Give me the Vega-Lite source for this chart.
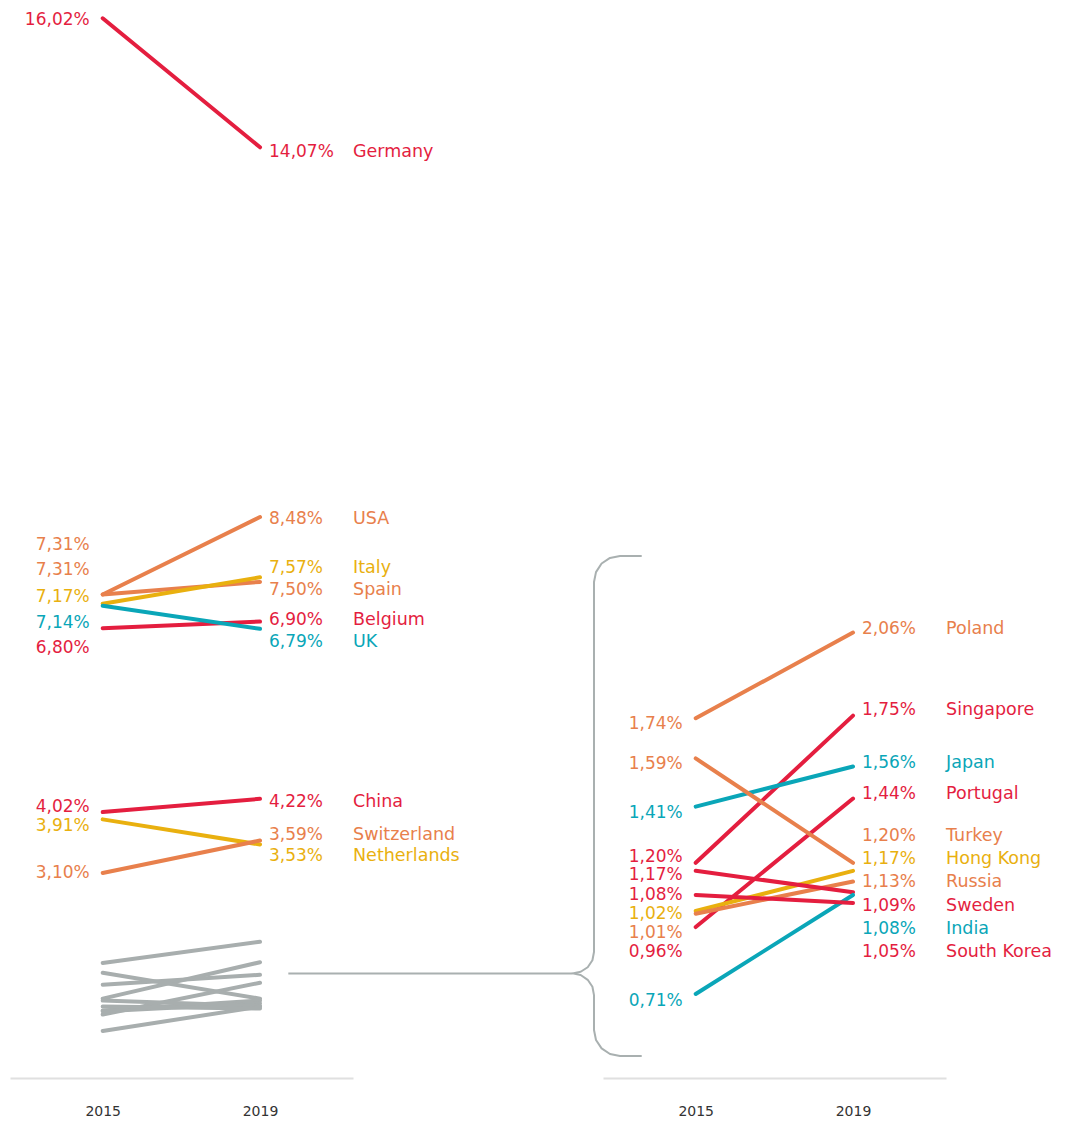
{
  "$schema": "https://vega.github.io/schema/vega-lite/v6.json",
  "padding": {"left": 10, "top": 5, "right": 0, "bottom": 0},
  "background": "white",
  "bounds": "flush",
  "spacing": 250,
  "config": {
    "view": {"stroke": null},
    "axisX": {"domainColor": "#e0e0e0", "domainWidth": 2, "ticks": false, "grid": false, "labelFont": "DejaVu Sans", "labelFontSize": 14, "labelColor": "#333333", "labelPadding": 26, "labelAngle": 0}
  },
  "datasets": {
    "slopes": [
      {"country": "Germany", "group": "top", "year": 2015, "value": 16.02, "labelAt": 16.012},
      {"country": "Germany", "group": "top", "year": 2019, "value": 14.07, "labelAt": 14.026},
      {"country": "USA", "group": "top", "year": 2015, "value": 7.31, "labelAt": 8.080},
      {"country": "USA", "group": "top", "year": 2019, "value": 8.48, "labelAt": 8.469},
      {"country": "Spain", "group": "top", "year": 2015, "value": 7.31, "labelAt": 7.698},
      {"country": "Spain", "group": "top", "year": 2019, "value": 7.50, "labelAt": 7.395},
      {"country": "Italy", "group": "top", "year": 2015, "value": 7.17, "labelAt": 7.294},
      {"country": "Italy", "group": "top", "year": 2019, "value": 7.57, "labelAt": 7.737},
      {"country": "Belgium", "group": "top", "year": 2015, "value": 6.80, "labelAt": 6.519},
      {"country": "Belgium", "group": "top", "year": 2019, "value": 6.90, "labelAt": 6.946},
      {"country": "UK", "group": "top", "year": 2015, "value": 7.14, "labelAt": 6.906},
      {"country": "UK", "group": "top", "year": 2019, "value": 6.79, "labelAt": 6.614},
      {"country": "China", "group": "top", "year": 2015, "value": 4.02, "labelAt": 4.119},
      {"country": "China", "group": "top", "year": 2019, "value": 4.22, "labelAt": 4.195},
      {"country": "Netherlands", "group": "top", "year": 2015, "value": 3.91, "labelAt": 3.832},
      {"country": "Netherlands", "group": "top", "year": 2019, "value": 3.53, "labelAt": 3.379},
      {"country": "Switzerland", "group": "top", "year": 2015, "value": 3.10, "labelAt": 3.126},
      {"country": "Switzerland", "group": "top", "year": 2019, "value": 3.59, "labelAt": 3.692},
      {"country": "Poland", "group": "other", "year": 2015, "value": 1.74, "labelAt": 1.725},
      {"country": "Poland", "group": "other", "year": 2019, "value": 2.06, "labelAt": 2.078},
      {"country": "Singapore", "group": "other", "year": 2015, "value": 1.20, "labelAt": 1.229},
      {"country": "Singapore", "group": "other", "year": 2019, "value": 1.75, "labelAt": 1.776},
      {"country": "Japan", "group": "other", "year": 2015, "value": 1.41, "labelAt": 1.391},
      {"country": "Japan", "group": "other", "year": 2019, "value": 1.56, "labelAt": 1.579},
      {"country": "Portugal", "group": "other", "year": 2015, "value": 0.96, "labelAt": 0.872},
      {"country": "Portugal", "group": "other", "year": 2019, "value": 1.44, "labelAt": 1.463},
      {"country": "Turkey", "group": "other", "year": 2015, "value": 1.59, "labelAt": 1.574},
      {"country": "Turkey", "group": "other", "year": 2019, "value": 1.20, "labelAt": 1.307},
      {"country": "Hong Kong", "group": "other", "year": 2015, "value": 1.02, "labelAt": 1.014},
      {"country": "Hong Kong", "group": "other", "year": 2019, "value": 1.17, "labelAt": 1.219},
      {"country": "Russia", "group": "other", "year": 2015, "value": 1.01, "labelAt": 0.943},
      {"country": "Russia", "group": "other", "year": 2019, "value": 1.13, "labelAt": 1.133},
      {"country": "Sweden", "group": "other", "year": 2015, "value": 1.17, "labelAt": 1.161},
      {"country": "Sweden", "group": "other", "year": 2019, "value": 1.09, "labelAt": 1.046},
      {"country": "India", "group": "other", "year": 2015, "value": 0.71, "labelAt": 0.690},
      {"country": "India", "group": "other", "year": 2019, "value": 1.08, "labelAt": 0.959},
      {"country": "South Korea", "group": "other", "year": 2015, "value": 1.08, "labelAt": 1.086},
      {"country": "South Korea", "group": "other", "year": 2019, "value": 1.05, "labelAt": 0.874}
    ],
    "brace": [
      {"part": "brace", "i": 0, "bx": 2013.627, "by": 2.346},
      {"part": "brace", "i": 1, "bx": 2013.075, "by": 2.346},
      {"part": "brace", "i": 2, "bx": 2012.821, "by": 2.339},
      {"part": "brace", "i": 3, "bx": 2012.607, "by": 2.318},
      {"part": "brace", "i": 4, "bx": 2012.465, "by": 2.286},
      {"part": "brace", "i": 5, "bx": 2012.414, "by": 2.249},
      {"part": "brace", "i": 6, "bx": 2012.414, "by": 0.867},
      {"part": "brace", "i": 7, "bx": 2012.374, "by": 0.836},
      {"part": "brace", "i": 8, "bx": 2012.254, "by": 0.810},
      {"part": "brace", "i": 9, "bx": 2012.076, "by": 0.793},
      {"part": "brace", "i": 10, "bx": 2011.868, "by": 0.787},
      {"part": "brace", "i": 11, "bx": 2012.076, "by": 0.781},
      {"part": "brace", "i": 12, "bx": 2012.254, "by": 0.763},
      {"part": "brace", "i": 13, "bx": 2012.374, "by": 0.737},
      {"part": "brace", "i": 14, "bx": 2012.414, "by": 0.706},
      {"part": "brace", "i": 15, "bx": 2012.414, "by": 0.5755},
      {"part": "brace", "i": 16, "bx": 2012.465, "by": 0.538},
      {"part": "brace", "i": 17, "bx": 2012.607, "by": 0.507},
      {"part": "brace", "i": 18, "bx": 2012.821, "by": 0.486},
      {"part": "brace", "i": 19, "bx": 2013.075, "by": 0.478},
      {"part": "brace", "i": 20, "bx": 2013.627, "by": 0.478},
      {"part": "link", "i": 0, "bx": 2004.642, "by": 0.787},
      {"part": "link", "i": 1, "bx": 2011.868, "by": 0.787}
    ]
  },
  "resolve": {"scale": {"x": "independent", "y": "independent", "color": "shared"}},
  "hconcat": [
    {
      "width": 343,
      "height": 1073,
      "data": {"name": "slopes"},
      "transform": [{"calculate": "replace(format(datum.value, '.2f'), '.', ',') + '%'", "as": "txt"}],
      "encoding": {
        "x": {"field": "year", "type": "quantitative", "scale": {"domain": [2012.643, 2021.364], "nice": false, "zero": false}, "axis": {"values": [2015, 2019], "format": "d", "title": null}}
      },
      "layer": [
        {
          "transform": [{"filter": "datum.group == 'other'"}],
          "mark": {"type": "line", "color": "#A8AEAE", "strokeWidth": 4, "strokeCap": "round"},
          "encoding": {
            "y": {"field": "value", "type": "quantitative", "scale": {"domain": [0, 16.221], "nice": false, "zero": false}, "axis": null},
            "detail": {"field": "country"}
          }
        },
        {
          "transform": [{"filter": "datum.group == 'top'"}],
          "mark": {"type": "line", "strokeWidth": 4, "strokeCap": "round"},
          "encoding": {
            "y": {"field": "value", "type": "quantitative", "scale": {"domain": [0, 16.221], "nice": false, "zero": false}, "axis": null},
            "color": {"field": "country", "type": "nominal", "legend": null, "scale": {"domain": ["Germany", "USA", "Spain", "Italy", "Belgium", "UK", "China", "Netherlands", "Switzerland", "Poland", "Singapore", "Japan", "Portugal", "Turkey", "Hong Kong", "Russia", "Sweden", "India", "South Korea"], "range": ["#E41E3F", "#E8804C", "#E8804C", "#E9B00F", "#E41E3F", "#0AA6B8", "#E41E3F", "#E9B00F", "#E8804C", "#E8804C", "#E41E3F", "#0AA6B8", "#E41E3F", "#E8804C", "#E9B00F", "#E8804C", "#E41E3F", "#0AA6B8", "#E41E3F"]}}
          }
        },
        {
          "transform": [{"filter": "datum.group == 'top' && datum.year == 2015"}],
          "mark": {"type": "text", "align": "right", "baseline": "middle", "dx": -13, "dy": 1.5, "font": "DejaVu Sans", "fontSize": 17},
          "encoding": {
            "y": {"field": "labelAt", "type": "quantitative", "scale": {"domain": [0, 16.221], "nice": false, "zero": false}, "axis": null},
            "text": {"field": "txt"},
            "color": {"field": "country", "type": "nominal", "legend": null}
          }
        },
        {
          "transform": [{"filter": "datum.group == 'top' && datum.year == 2019"}],
          "mark": {"type": "text", "align": "left", "baseline": "middle", "dx": 9, "dy": 1.5, "font": "DejaVu Sans", "fontSize": 17},
          "encoding": {
            "y": {"field": "labelAt", "type": "quantitative", "scale": {"domain": [0, 16.221], "nice": false, "zero": false}, "axis": null},
            "text": {"field": "txt"},
            "color": {"field": "country", "type": "nominal", "legend": null}
          }
        },
        {
          "transform": [{"filter": "datum.group == 'top' && datum.year == 2019"}],
          "mark": {"type": "text", "align": "left", "baseline": "middle", "dx": 93, "dy": 1.5, "font": "DejaVu Sans", "fontSize": 17.5},
          "encoding": {
            "y": {"field": "labelAt", "type": "quantitative", "scale": {"domain": [0, 16.221], "nice": false, "zero": false}, "axis": null},
            "text": {"field": "country"},
            "color": {"field": "country", "type": "nominal", "legend": null}
          }
        }
      ]
    },
    {
      "width": 343,
      "height": 1073,
      "data": {"name": "slopes"},
      "transform": [{"calculate": "replace(format(datum.value, '.2f'), '.', ',') + '%'", "as": "txt"}],
      "encoding": {
        "x": {"field": "year", "type": "quantitative", "scale": {"domain": [2012.643, 2021.364], "nice": false, "zero": false}, "axis": {"values": [2015, 2019], "format": "d", "title": null}}
      },
      "layer": [
        {
          "data": {"name": "brace"},
          "mark": {"type": "line", "color": "#A9B0B0", "strokeWidth": 2, "strokeJoin": "round"},
          "encoding": {
            "x": {"field": "bx", "type": "quantitative", "scale": {"domain": [2012.643, 2021.364], "nice": false, "zero": false}, "axis": {"values": [2015, 2019], "format": "d", "title": null}},
            "y": {"field": "by", "type": "quantitative", "scale": {"domain": [0.3962, 4.4044], "nice": false, "zero": false}, "axis": null},
            "detail": {"field": "part"},
            "order": {"field": "i", "type": "quantitative"}
          }
        },
        {
          "transform": [{"filter": "datum.group == 'other'"}],
          "mark": {"type": "line", "strokeWidth": 4, "strokeCap": "round"},
          "encoding": {
            "y": {"field": "value", "type": "quantitative", "scale": {"domain": [0.3962, 4.4044], "nice": false, "zero": false}, "axis": null},
            "color": {"field": "country", "type": "nominal", "legend": null}
          }
        },
        {
          "transform": [{"filter": "datum.group == 'other' && datum.year == 2015"}],
          "mark": {"type": "text", "align": "right", "baseline": "middle", "dx": -13, "dy": 1.5, "font": "DejaVu Sans", "fontSize": 17},
          "encoding": {
            "y": {"field": "labelAt", "type": "quantitative", "scale": {"domain": [0.3962, 4.4044], "nice": false, "zero": false}, "axis": null},
            "text": {"field": "txt"},
            "color": {"field": "country", "type": "nominal", "legend": null}
          }
        },
        {
          "transform": [{"filter": "datum.group == 'other' && datum.year == 2019"}],
          "mark": {"type": "text", "align": "left", "baseline": "middle", "dx": 9, "dy": 1.5, "font": "DejaVu Sans", "fontSize": 17},
          "encoding": {
            "y": {"field": "labelAt", "type": "quantitative", "scale": {"domain": [0.3962, 4.4044], "nice": false, "zero": false}, "axis": null},
            "text": {"field": "txt"},
            "color": {"field": "country", "type": "nominal", "legend": null}
          }
        },
        {
          "transform": [{"filter": "datum.group == 'other' && datum.year == 2019"}],
          "mark": {"type": "text", "align": "left", "baseline": "middle", "dx": 93, "dy": 1.5, "font": "DejaVu Sans", "fontSize": 17.5},
          "encoding": {
            "y": {"field": "labelAt", "type": "quantitative", "scale": {"domain": [0.3962, 4.4044], "nice": false, "zero": false}, "axis": null},
            "text": {"field": "country"},
            "color": {"field": "country", "type": "nominal", "legend": null}
          }
        }
      ]
    }
  ]
}
